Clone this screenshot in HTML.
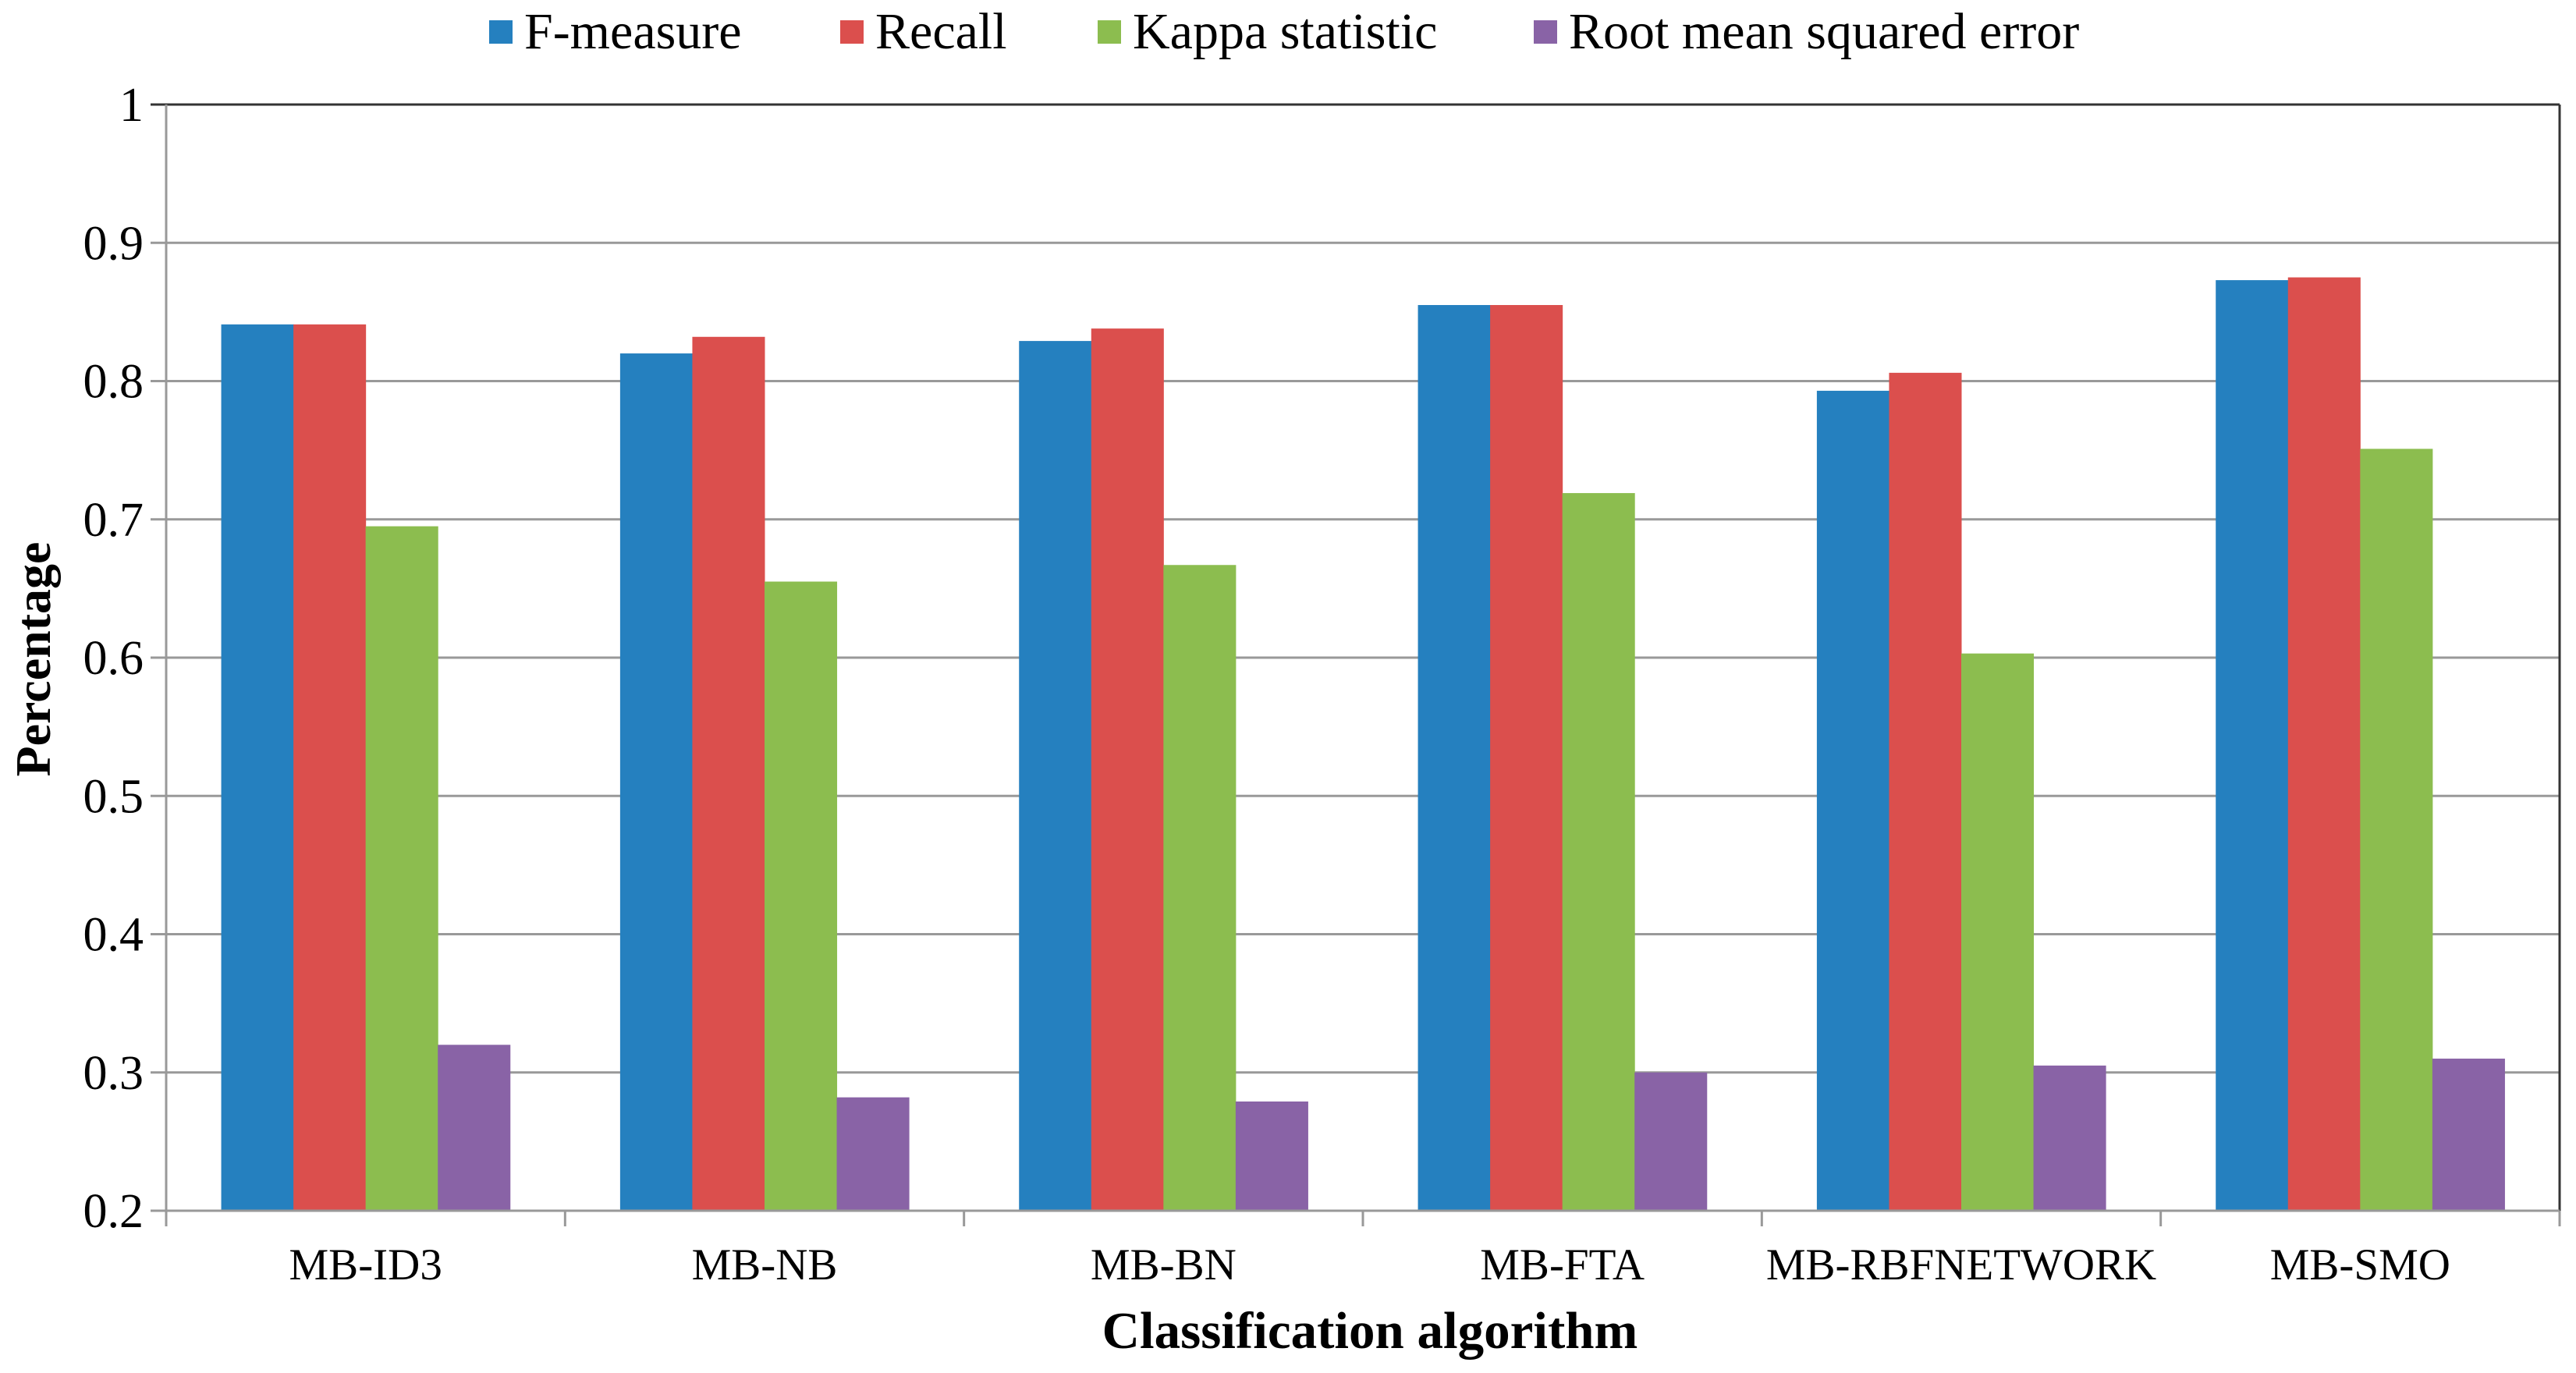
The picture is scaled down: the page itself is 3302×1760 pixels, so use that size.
<!DOCTYPE html>
<html><head><meta charset="utf-8"><style>
body{margin:0;background:#fff;}
svg{display:block;}
svg text{font-family:"Liberation Serif",serif;}
</style></head><body>
<svg id="chart" width="3302" height="1760" viewBox="0 0 3302 1760">
<g id="grid"></g><g id="bars"></g><g id="axes"></g><g id="legend"></g>
<text x="1756" y="1728" text-anchor="middle" font-size="67" font-weight="bold" font-family="Liberation Serif, serif">Classification algorithm</text>
<text transform="translate(64,845) rotate(-90)" text-anchor="middle" font-size="64" font-weight="bold" font-family="Liberation Serif, serif">Percentage</text>
</svg>
<script>
const categories = ["MB-ID3","MB-NB","MB-BN","MB-FTA","MB-RBFNETWORK","MB-SMO"];
const seriesNames = ["F-measure","Recall","Kappa statistic","Root mean squared error"];
const fMeasure = [0.841,0.820,0.829,0.855,0.793,0.873];
const recall = [0.841,0.832,0.838,0.855,0.806,0.875];
const kappa = [0.695,0.655,0.667,0.719,0.603,0.751];
const rmse = [0.320,0.282,0.279,0.300,0.305,0.310];
const yTicks = [0.2,0.3,0.4,0.5,0.6,0.7,0.8,0.9,1];
const yTickLabels = ["0.2","0.3","0.4","0.5","0.6","0.7","0.8","0.9","1"];

const NS="http://www.w3.org/2000/svg";
const colors=["#2580bf","#db4f4d","#8cbd4f","#8963a6"];
const series=[fMeasure,recall,kappa,rmse];
const L=213,R=3281,T=134,B=1552,ymin=0.2,ymax=1;
const y=v=>B-(v-ymin)/(ymax-ymin)*(B-T);
const cw=(R-L)/categories.length;
const bw=cw*0.181, gp=(cw-4*bw)/2;
const x=(i,s)=>L+i*cw+gp+s*bw;
function mk(tag,attrs,parent){const e=document.createElementNS(NS,tag);for(const k in attrs)e.setAttribute(k,attrs[k]);document.getElementById(parent).appendChild(e);return e;}
yTicks.forEach((t,i)=>{
  const g=mk("line",{x1:L-20,x2:R,y1:y(t),y2:y(t),stroke:i==yTicks.length-1?"#333":"#999","stroke-width":3},"grid");
  
  
  const tx=mk("text",{x:184,y:y(t)+21,"text-anchor":"end","font-size":62,"font-family":"Liberation Serif, serif"},"axes");
  tx.textContent=yTickLabels[i];
  
  
});
series.forEach((vals,s)=>{vals.forEach((v,i)=>{
  const r=mk("rect",{x:x(i,s),y:y(v),width:bw+0.5,height:B-y(v),fill:colors[s]},"bars");
  
  
});});
let a=mk("line",{x1:L,x2:L,y1:T,y2:B,stroke:"#999","stroke-width":3},"axes");


a=mk("line",{x1:R,x2:R,y1:T,y2:B,stroke:"#333","stroke-width":3},"axes");


a=mk("line",{x1:L,x2:R,y1:B,y2:B,stroke:"#999","stroke-width":3},"axes");


for(let i=0;i<=categories.length;i++){
  const tk=mk("line",{x1:L+i*cw,x2:L+i*cw,y1:B,y2:B+20,stroke:"#999","stroke-width":3},"axes");
  
  
}
categories.forEach((c,i)=>{
  const tx=mk("text",{x:L+(i+0.5)*cw,y:1640,"text-anchor":"middle","font-size":57,"font-family":"Liberation Serif, serif"},"axes");
  tx.textContent=c;
  
  
});
const lx=[627,1077,1407,1966];
seriesNames.forEach((n,s)=>{
  const r=mk("rect",{x:lx[s],y:26,width:30,height:30,fill:colors[s]},"legend");
  
  
  const t=mk("text",{x:lx[s]+45,y:62,"font-size":66,"font-family":"Liberation Serif, serif"},"legend");
  t.textContent=n;
  
  
});
</script>
</body></html>
